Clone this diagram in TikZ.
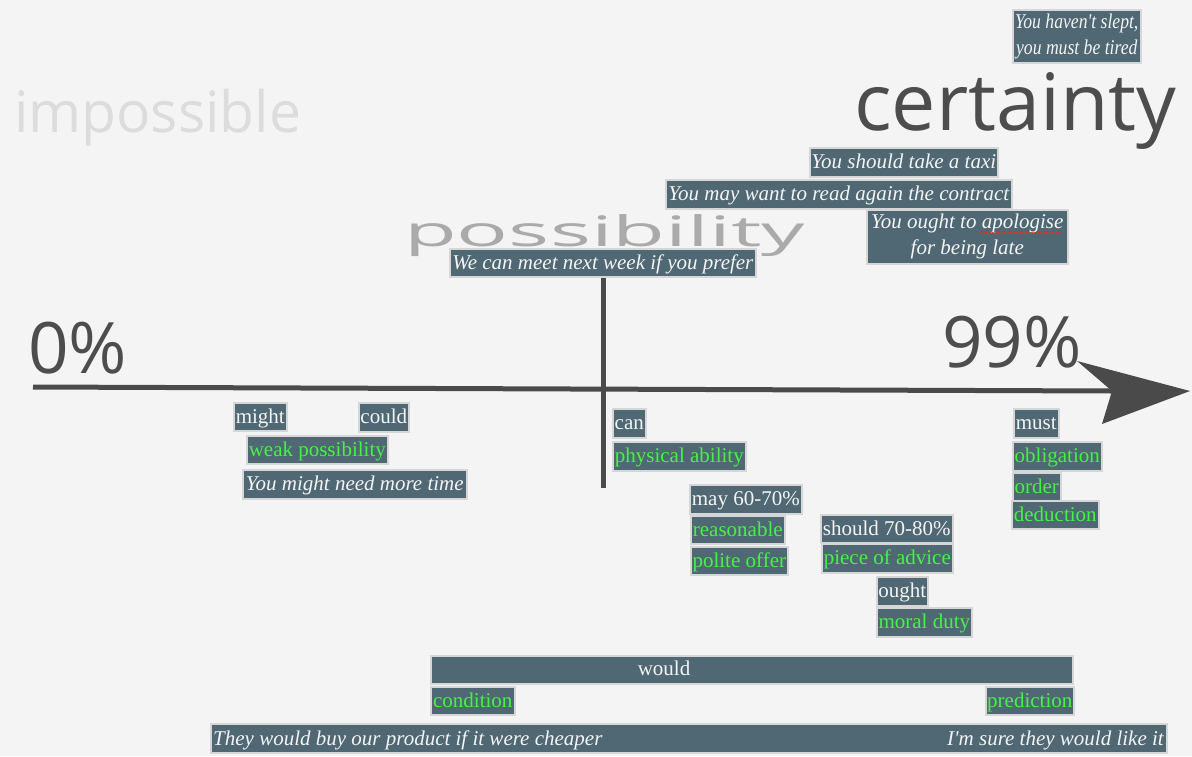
\documentclass[tikz,border=0pt]{standalone}
\usepackage{fontspec}
\setmainfont{Liberation Serif}
\newfontfamily\osans{Open Sans}
\usetikzlibrary{decorations.pathmorphing}
\definecolor{bg}{HTML}{F4F4F4}
\definecolor{boxfill}{HTML}{4F6873}
\definecolor{boxline}{HTML}{D6D6D6}
\definecolor{gtext}{HTML}{44F444}
\definecolor{wtext}{HTML}{F4F4F4}
\definecolor{axis}{HTML}{4A4A4A}
\definecolor{bigdark}{HTML}{4D4D4D}
\definecolor{possgrey}{HTML}{AAAAAA}
\definecolor{impgrey}{HTML}{DCDCDC}
\begin{document}
\begin{tikzpicture}[x=1pt,y=-1pt,
  bxb/.style={fill=boxfill, draw=boxline, line width=1.6pt, inner sep=0pt, anchor=north west, text=wtext, font=\fontsize{21}{26}\selectfont},
  bx/.style={bxb, text height=15.5pt, text depth=2.5pt},
  gr/.style={bx, text=gtext},
  itb/.style={bx, font=\fontsize{21}{26}\selectfont\itshape},
  itw/.style={bxb, align=center, font=\fontsize{21}{26}\selectfont\itshape},
  big/.style={anchor=base west, inner sep=0pt},
  lbl/.style={inner sep=0pt, text=wtext, font=\fontsize{21}{26}\selectfont}
]
\fill[bg] (0,0) rectangle (1192,756);
\useasboundingbox (0,0) rectangle (1192,756);

% big words
\node[big, text=impgrey, font=\osans\fontsize{57}{60}\selectfont] (imp) at (14,132) {impossible};
\node[big, text=bigdark, font=\osans\fontsize{79}{80}\selectfont] (cert) at (854,130) {certainty};
\node[big, text=possgrey, font=\osans\fontsize{42}{44}\selectfont] (poss) at (404,246) {\scalebox{2.05}[1]{possibility}};
\node[big, text=bigdark, font=\osans\fontsize{71}{74}\selectfont] (zero) at (28,373) {0\%};
\node[big, text=bigdark, font=\osans\fontsize{71}{74}\selectfont] (nn) at (942,367) {99\%};

% axes
\coordinate (axL) at (33,387);
\coordinate (axR) at (1112,391);
\coordinate (vT) at (603,278);
\coordinate (vB) at (603,488);
\draw[axis, line width=5pt] (axL) -- (axR);
\draw[axis, line width=5pt] (vT) -- (vB);
\fill[axis] (1190,391) -- (1077,361) -- (1112,391) -- (1102,424) -- cycle;

% top examples
\node[itw, minimum width=128, minimum height=53] (tired) at (1012,9) {\scalebox{0.84}[1]{You haven\textquotesingle t slept,}\\\scalebox{0.84}[1]{you must be tired}};
\node[itb, minimum width=188, minimum height=29] (taxi) at (809,147) {You should take a taxi};
\node[itb, minimum width=346, minimum height=29] (contract) at (665,179) {You may want to read again the contract};
\node[itw, minimum width=201, minimum height=54] (apol) at (866,209) {You ought to apologise\\for being late};
\draw[red!85, line width=0.6pt, decorate, decoration={snake, amplitude=0.7pt, segment length=3pt}] (980,233) -- (1060,233);
\node[itb, minimum width=306, minimum height=28] (meet) at (449,248) {We can meet next week if you prefer};

% left group
\node[bx, minimum width=53, minimum height=28] (might) at (233,402) {might};
\node[bx, minimum width=50, minimum height=29] (could) at (358,402) {could};
\node[gr, minimum width=141, minimum height=28] (weak) at (246,435) {weak possibility};
\node[itb, minimum width=224, minimum height=29] (needtime) at (242,469) {You might need more time};

% can
\node[bx, minimum width=33, minimum height=29] (can) at (612,408) {can};
\node[gr, minimum width=133, minimum height=29] (phys) at (612,441) {physical ability};

% may
\node[bx, minimum width=112, minimum height=29] (may) at (689,484) {may 60-70\%};
\node[gr, minimum width=94, minimum height=28] (reas) at (690,515) {reasonable};
\node[gr, minimum width=97, minimum height=28] (polite) at (690,546) {polite offer};

% should / ought
\node[bx, minimum width=132, minimum height=28] (should) at (820,514) {should 70-80\%};
\node[gr, minimum width=131, minimum height=29] (advice) at (821,543) {piece of advice};
\node[bx, minimum width=51, minimum height=29] (ought) at (876,576) {ought};
\node[gr, minimum width=95, minimum height=29] (moral) at (876,607) {moral duty};

% must
\node[bx, minimum width=45, minimum height=29] (must) at (1013,408) {must};
\node[gr, minimum width=89, minimum height=29] (oblig) at (1012,441) {obligation};
\node[gr, minimum width=48, minimum height=28] (order) at (1012,472) {order};
\node[gr, minimum width=87, minimum height=28] (deduc) at (1011,500) {deduction};

% would
\node[bx, minimum width=642, minimum height=28] (would) at (430,655) {};
\node[lbl, anchor=base] (wouldt) at (664,675) {would};
\node[gr, minimum width=84, minimum height=28] (cond) at (430,686) {condition};
\node[gr, minimum width=88, minimum height=28] (pred) at (985,686) {prediction};
\node[bx, minimum width=956, minimum height=29] (bottom) at (210,723) {};
\node[lbl, anchor=base west, font=\fontsize{21}{26}\selectfont\itshape] (condex) at (213,745) {They would buy our product if it were cheaper};
\node[lbl, anchor=base east, font=\fontsize{21}{26}\selectfont\itshape] (predex) at (1164,745) {I\textquotesingle m sure they would like it};
\end{tikzpicture}
\end{document}
